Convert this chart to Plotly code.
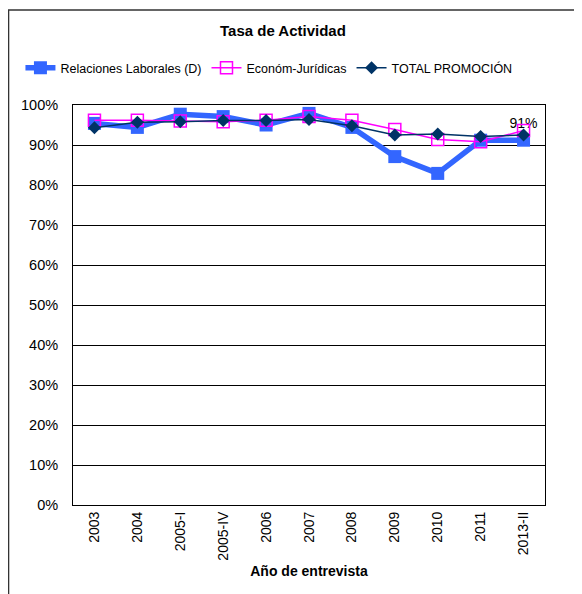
import plotly.graph_objects as go

categories = ["2003", "2004", "2005-I", "2005-IV", "2006", "2007", "2008", "2009", "2010", "2011", "2013-II"]
relaciones = [95.4, 94.4, 97.7, 97.1, 95.0, 97.9, 94.4, 87.1, 82.9, 91.2, 91.2]
econom = [96.2, 96.2, 96.0, 95.8, 96.2, 97.1, 96.2, 93.9, 91.4, 90.8, 93.6]
total = [94.3, 95.7, 95.8, 96.1, 96.1, 96.4, 94.8, 92.5, 92.75, 92.1, 92.5]
y_ticks = list(range(0, 101, 10))
y_ticklabels = [f"{v}%" for v in y_ticks]

OFF = 8  # page body margin
W, H = 582 - OFF, 594 - OFF
L, R, T, B = 69 - OFF, 545 - OFF, 105 - OFF, 505 - OFF

def px(x):
    return (x - OFF - L) / (R - L)

def py(y):
    return (B - (y - OFF)) / (B - T)

FONT = "Liberation Sans, Arial, sans-serif"

labels_rel = [""] * (len(relaciones) - 1) + [f"{round(relaciones[-1])}%"]

fig = go.Figure()
fig.add_trace(go.Scatter(
    x=categories, y=relaciones, name="Relaciones Laborales (D)",
    mode="lines+markers+text", text=labels_rel, textposition="top center",
    textfont=dict(family=FONT, size=14, color="black"),
    line=dict(color="#3366FF", width=5.5),
    marker=dict(symbol="square", size=13, color="#3366FF"),
))
fig.add_trace(go.Scatter(
    x=categories, y=econom, name="Económ-Jurídicas", mode="lines+markers",
    line=dict(color="#FF00FF", width=1.5),
    marker=dict(symbol="square-open", size=12, color="#FF00FF", line=dict(width=1.5)),
))
fig.add_trace(go.Scatter(
    x=categories, y=total, name="TOTAL PROMOCIÓN", mode="lines+markers",
    line=dict(color="#003366", width=1.5),
    marker=dict(symbol="diamond", size=10, color="#003366"),
))

fig.update_layout(
    width=W, height=H,
    margin=dict(l=L, r=W - R, t=T, b=H - B),
    paper_bgcolor="white", plot_bgcolor="white",
    font=dict(family=FONT, size=14, color="black"),
    showlegend=True,
    legend=dict(orientation="h", x=px(16), y=py(68), xanchor="left", yanchor="middle",
                font=dict(size=12.5), itemwidth=30, tracegroupgap=0, bgcolor="rgba(0,0,0,0)"),
    xaxis=dict(type="category", range=[-0.5, 10.5], tickangle=-90, showgrid=False,
               showline=True, linecolor="black", linewidth=1, mirror=True,
               ticks="", tickfont=dict(size=14),
               title=dict(text="<b>Año de entrevista</b>", font=dict(size=14), standoff=6)),
    yaxis=dict(range=[0, 100], tickvals=y_ticks, ticktext=y_ticklabels,
               showgrid=True, gridcolor="black", gridwidth=1,
               showline=True, linecolor="black", linewidth=1, mirror=True,
               ticks="", tickfont=dict(size=14.5), ticklabelstandoff=11, zeroline=False),
    annotations=[dict(text="<b>Tasa de Actividad</b>", x=px(281), y=py(30), xref="paper", yref="paper",
                      showarrow=False, font=dict(size=15), xanchor="center", yanchor="middle")],
    shapes=[dict(type="rect", xref="paper", yref="paper", x0=px(4), x1=px(577), y0=py(640), y1=py(10),
                 line=dict(color="#333333", width=1.5), fillcolor="rgba(0,0,0,0)", layer="below")],
)

fig.write_html("out.html")
